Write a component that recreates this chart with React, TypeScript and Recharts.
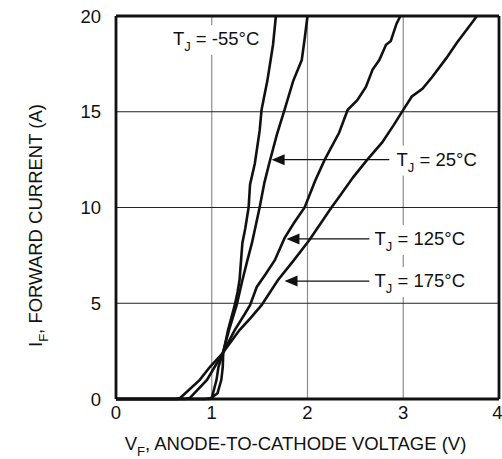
import React from "react";
import {
  LineChart,
  Line,
  XAxis,
  YAxis,
  CartesianGrid,
  ReferenceLine,
  ReferenceDot,
  Label,
} from "recharts";

// forward voltage (V) vs forward current (A)
const tjMinus55 = [
  { v: 0, i: 0 }, { v: 0.98, i: 0 }, { v: 1.06, i: 0.3 }, { v: 1.1, i: 1.0 },
  { v: 1.115, i: 1.67 }, { v: 1.12, i: 2.4 }, { v: 1.17, i: 3.6 }, { v: 1.24, i: 4.9 },
  { v: 1.27, i: 5.6 }, { v: 1.29, i: 6.2 }, { v: 1.32, i: 8.15 }, { v: 1.35, i: 8.9 },
  { v: 1.385, i: 10.0 }, { v: 1.4, i: 11.2 }, { v: 1.45, i: 12.3 }, { v: 1.5, i: 14.0 },
  { v: 1.52, i: 15.1 }, { v: 1.58, i: 16.6 }, { v: 1.615, i: 17.7 }, { v: 1.64, i: 18.5 },
  { v: 1.67, i: 20 },
];

const tj25 = [
  { v: 0, i: 0 }, { v: 0.93, i: 0 }, { v: 1.0, i: 0.05 }, { v: 1.05, i: 1.0 },
  { v: 1.07, i: 1.67 }, { v: 1.115, i: 2.4 }, { v: 1.18, i: 3.6 }, { v: 1.26, i: 4.9 },
  { v: 1.32, i: 6.2 }, { v: 1.37, i: 7.2 }, { v: 1.42, i: 8.15 }, { v: 1.5, i: 10.0 },
  { v: 1.55, i: 11.3 }, { v: 1.6, i: 12.3 }, { v: 1.68, i: 13.8 }, { v: 1.76, i: 15.1 },
  { v: 1.85, i: 16.6 }, { v: 1.94, i: 17.7 }, { v: 1.97, i: 18.8 }, { v: 2.0, i: 20 },
];

const tj125 = [
  { v: 0, i: 0 }, { v: 0.72, i: 0 }, { v: 0.77, i: 0.05 }, { v: 0.95, i: 1.0 },
  { v: 1.03, i: 1.67 }, { v: 1.115, i: 2.4 }, { v: 1.24, i: 3.6 }, { v: 1.34, i: 4.4 },
  { v: 1.4, i: 4.9 }, { v: 1.47, i: 5.85 }, { v: 1.56, i: 6.5 }, { v: 1.66, i: 7.26 },
  { v: 1.76, i: 8.4 }, { v: 1.86, i: 9.2 }, { v: 1.97, i: 10.0 }, { v: 2.08, i: 11.4 },
  { v: 2.18, i: 12.5 }, { v: 2.33, i: 13.9 }, { v: 2.42, i: 15.1 }, { v: 2.52, i: 15.6 },
  { v: 2.61, i: 16.3 }, { v: 2.68, i: 17.2 }, { v: 2.75, i: 17.7 }, { v: 2.82, i: 18.5 },
  { v: 2.87, i: 18.7 }, { v: 2.89, i: 19.0 }, { v: 2.93, i: 19.6 }, { v: 2.97, i: 20 },
];

const tj175 = [
  { v: 0, i: 0 }, { v: 0.63, i: 0 }, { v: 0.67, i: 0.05 }, { v: 0.875, i: 1.0 },
  { v: 0.98, i: 1.67 }, { v: 1.115, i: 2.4 }, { v: 1.29, i: 3.6 }, { v: 1.4, i: 4.2 },
  { v: 1.52, i: 4.9 }, { v: 1.69, i: 6.2 }, { v: 1.85, i: 7.2 }, { v: 2.02, i: 8.3 },
  { v: 2.25, i: 10.0 }, { v: 2.33, i: 10.55 }, { v: 2.48, i: 11.6 }, { v: 2.625, i: 12.5 },
  { v: 2.78, i: 13.4 }, { v: 2.9, i: 14.3 }, { v: 3.0, i: 15.1 }, { v: 3.09, i: 15.8 },
  { v: 3.2, i: 16.2 }, { v: 3.3, i: 16.8 }, { v: 3.45, i: 17.8 }, { v: 3.56, i: 18.6 },
  { v: 3.68, i: 19.4 }, { v: 3.77, i: 20 },
];

const xTicks = [0, 1, 2, 3, 4];
const yTicks = [0, 5, 10, 15, 20];

// callouts: label text, arrow tip, arrow tail, where text starts, current level
const callouts = [
  { temp: "25°C", tip: 1.625, tail: 2.854, text: 2.93, i: 12.5 },
  { temp: "125°C", tip: 1.78, tail: 2.646, text: 2.7, i: 8.36 },
  { temp: "175°C", tip: 1.76, tail: 2.646, text: 2.7, i: 6.16 },
];
const topLabel = { temp: "-55°C", v: 0.594, i: 18.8 };

const FONT = "'Liberation Sans', Arial, sans-serif";
const FS = 18.5;
const SUB = 13;

const TjText = ({ cx, cy, temp }: any) => {
  const w = 30 + temp.length * 11;
  return (
    <g>
      <rect x={cx - 4} y={cy - 14} width={w} height={30} fill="#fff" />
      <text x={cx} y={cy + 6} fontSize={FS} fontFamily={FONT} fill="#111">
        T
        <tspan dy={6} fontSize={SUB}>J</tspan>
        <tspan dy={-6}>{` = ${temp}`}</tspan>
      </text>
    </g>
  );
};

const ArrowHead = ({ cx, cy }: any) => (
  <path d={`M${cx},${cy} l13,-5.5 l0,11 z`} fill="#111" />
);

const YTitle = ({ viewBox }: any) => {
  const cy = viewBox.y + viewBox.height / 2 + 18;
  const x = 42;
  return (
    <text
      x={x}
      y={cy}
      transform={`rotate(-90 ${x} ${cy})`}
      textAnchor="middle"
      fontSize={FS}
      fontFamily={FONT}
      fill="#111"
    >
      I<tspan dy={6} fontSize={SUB}>F</tspan>
      <tspan dy={-6}>, FORWARD CURRENT (A)</tspan>
    </text>
  );
};

const XTitle = ({ viewBox }: any) => {
  const cx = viewBox.x + viewBox.width / 2 - 12;
  return (
    <text x={cx} y={450} textAnchor="middle" fontSize={FS} fontFamily={FONT} fill="#111">
      V<tspan dy={6} fontSize={SUB}>F</tspan>
      <tspan dy={-6}>, ANODE-TO-CATHODE VOLTAGE (V)</tspan>
    </text>
  );
};

const series = [tjMinus55, tj25, tj125, tj175];
const frameX = [0, 4];
const frameY = [0, 20];

export default function App() {
  return (
    <div style={{ position: "absolute", left: 0, top: 0, background: "#fff" }}>
      <LineChart
        width={502}
        height={459}
        margin={{ top: 16, right: 3, bottom: 0, left: 0 }}
      >
        <CartesianGrid horizontal={false} stroke="#8c8c8c" strokeWidth={1.2} />
        <CartesianGrid vertical={false} stroke="#222" strokeWidth={1} />
        <XAxis
          type="number"
          dataKey="v"
          domain={[0, 4]}
          ticks={xTicks}
          axisLine={false}
          tickLine={false}
          tickSize={0}
          tickMargin={7}
          height={60}
          tick={{ fontSize: FS, fontFamily: FONT, fill: "#111" }}
        >
          <Label content={<XTitle />} />
        </XAxis>
        <YAxis
          type="number"
          dataKey="i"
          domain={[0, 20]}
          ticks={yTicks}
          axisLine={false}
          tickLine={false}
          tickSize={0}
          tickMargin={15}
          width={116}
          tick={{ fontSize: FS, fontFamily: FONT, fill: "#111" }}
        >
          <Label content={<YTitle />} />
        </YAxis>
        {series.map((d, k) => (
          <Line
            key={k}
            data={d}
            dataKey="i"
            type="linear"
            stroke="#111"
            strokeWidth={2.6}
            dot={false}
            isAnimationActive={false}
          />
        ))}
        {callouts.map((c) => (
          <ReferenceLine
            key={`l${c.temp}`}
            segment={[{ x: c.tip + 0.1, y: c.i }, { x: c.tail, y: c.i }]}
            stroke="#111"
            strokeWidth={1.2}
          />
        ))}
        {callouts.map((c) => (
          <ReferenceDot key={`a${c.temp}`} x={c.tip} y={c.i} shape={<ArrowHead />} />
        ))}
        {callouts.map((c) => (
          <ReferenceDot key={`t${c.temp}`} x={c.text} y={c.i} shape={<TjText temp={c.temp} />} />
        ))}
        <ReferenceDot x={topLabel.v} y={topLabel.i} shape={<TjText temp={topLabel.temp} />} />
        {frameX.map((x) => (
          <ReferenceLine key={`fx${x}`} x={x} stroke="#111" strokeWidth={2.8} />
        ))}
        {frameY.map((y) => (
          <ReferenceLine key={`fy${y}`} y={y} stroke="#111" strokeWidth={2.8} />
        ))}
      </LineChart>
    </div>
  );
}
